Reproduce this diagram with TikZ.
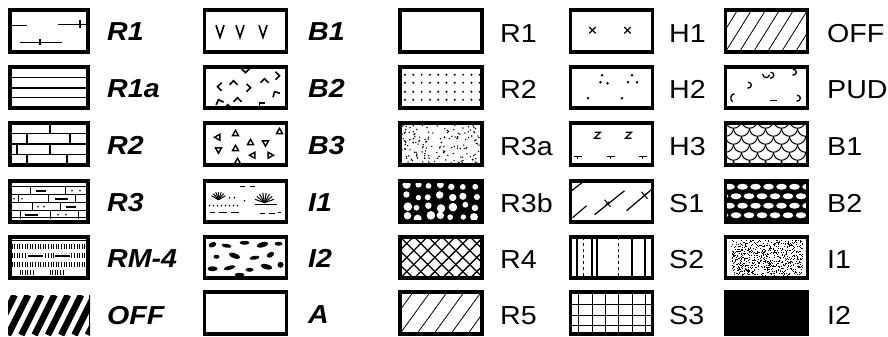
\documentclass[tikz,border=0pt]{standalone}
\usepackage{fontspec}
\newfontfamily\arial[FakeStretch=1.1]{Liberation Sans}
\newcommand\mypat[4]{\begin{scope}[shift={({#1-#3/2},{#2-20.75})}]\clip (0,0) rectangle (#3,41.5);#4\end{scope}}
\begin{document}
\begin{tikzpicture}[x=1pt,y=-1pt,
  box/.style={draw, line width=3.8pt, minimum height=41.5pt, inner sep=0pt, outer sep=0pt},
  pl/.style={line width=1.2pt},
  lab/.style={anchor=base west, inner sep=0pt, font=\arial\fontsize{26}{26}\selectfont},
  ilab/.style={anchor=base west, inner sep=0pt, font=\arial\bfseries\itshape\fontsize{26}{26}\selectfont}]
\useasboundingbox (0,0) rectangle (888,337);
\pgfmathsetseed{4242}

% ================= column 1 =================
\mypat{49}{31}{78}{
  \draw[pl] (0,15) -- (17,15);
  \draw[pl] (48,14) -- (78,14); \draw[pl] (70,10) -- (70,18);
  \draw[pl] (10,32) -- (52,32); \draw[pl] (30,29) -- (30,35);
}
\node[box, minimum width=78pt] (b1a) at (49,31) {};
\node[ilab] (t1a) at (107,41) {R1};

\mypat{49}{87.5}{78}{
  \draw[pl] (0,10.5) -- (78,10.5);
  \draw[line width=2pt] (0,21) -- (78,21);
  \draw[pl] (0,31) -- (78,31);
}
\node[box, minimum width=78pt] (b1b) at (49,87.5) {};
\node[ilab] (t1b) at (107,97.5) {R1a};

\mypat{49}{144}{78}{
  \foreach \y in {10.4,20.8,31.2} \draw[pl] (0,\y) -- (78,\y);
  \foreach \x/\y in {40/0, 17/10.4, 60/10.4, 7/20.8, 40/20.8, 17/31.2, 57/31.2}
    \draw[pl] (\x,\y) -- (\x,{\y+10.4});
}
\node[box, minimum width=78pt] (b1c) at (49,144) {};
\node[ilab] (t1c) at (107,154) {R2};

\mypat{49}{201.5}{78}{
  \foreach \y in {6,14,22,30,37} \draw[line width=1pt] (0,\y) -- (78,\y);
  \foreach \x/\y in {20/6, 55/6, 8/14, 38/14, 65/14, 22/22, 50/22, 10/30, 40/30, 68/30}
    \draw[line width=1pt] (\x,\y) -- (\x,{\y+8});
  \draw[line width=1.6pt] (26,10) -- (36,10) (45,18) -- (58,18) (56,26) -- (66,26) (15,34) -- (28,34);
  \foreach \x/\y in {4/18, 12/18, 28/26, 34/26, 48/34, 56/34, 62/10, 70/10}
    \fill (\x,\y) circle (0.9);
}
\node[box, minimum width=78pt] (b1d) at (49,201.5) {};
\node[ilab] (t1d) at (107,211.5) {R3};

\mypat{49}{257.5}{78}{
  \draw[pl] (0,4) -- (78,4);
  \foreach \y in {7,16,25}
    \foreach \x in {2,4.6,...,77} \draw[line width=0.8pt] (\x,\y) -- (\x,{\y+5.5});
  \fill[white] (17,16.5) rectangle (34,21.5) (44,16.5) rectangle (61,21.5);
  \draw[line width=2.5pt] (18,19) -- (33,19) (45,19) -- (60,19);
  \foreach \x in {10,12.6,...,24} \draw[line width=0.8pt] (\x,33) -- (\x,38);
  \foreach \x in {40,42.6,...,54} \draw[line width=0.8pt] (\x,33) -- (\x,38);
}
\node[box, minimum width=78pt] (b1e) at (49,257.5) {};
\node[ilab] (t1e) at (107,267.5) {RM-4};

\begin{scope}
  \clip (8,295) rectangle (90,335);
  \foreach \k in {-2,...,7} \draw[line width=6.5pt] ({\k*13.3+8},335) -- ({\k*13.3+28},295);
\end{scope}
\coordinate (offa) at (89.5,295);
\coordinate (offb) at (89.5,335);
\draw[line width=0.8pt] (offa) -- (offb);
\node[ilab] (t1f) at (107,324) {OFF};

% ================= column 2 =================
\mypat{245.5}{31}{82}{
  \foreach \x in {15.5,35.5,58.5} \draw[line width=1.6pt] ({\x-4},15) -- (\x,27) -- ({\x+4},15);
}
\node[box, minimum width=82pt] (b2a) at (245.5,31) {};
\node[ilab] (t2a) at (308,41) {B1};

\mypat{245.5}{87.5}{82}{
  \foreach \x/\y/\a in {13/20/90, 29/14/0, 46/21/-90, 60/12/0, 70/25/30, 14/33/20, 33/31/0, 41/6/180, 75/9/-90, 23/38/10, 55/36/45}
    \draw[line width=1.6pt, rotate around={\a:(\x,\y)}] ({\x-4},{\y+4}) -- (\x,\y) -- ({\x+4},{\y+4});
}
\node[box, minimum width=82pt] (b2b) at (245.5,87.5) {};
\node[ilab] (t2b) at (308,97.5) {B2};

\mypat{245.5}{144}{82}{
  \foreach \x/\y/\a in {13/14/90, 31/10/0, 46/19/0, 61/20/180, 14/27/180, 31/25/0, 48/32/90, 66/32/-90, 33/38/0, 75/8/0}
    \draw[line width=1.4pt, rotate around={\a:(\x,\y)}] ({\x-3},{\y+2.4}) -- ({\x+3},{\y+2.4}) -- (\x,{\y-3}) -- cycle;
}
\node[box, minimum width=82pt] (b2c) at (245.5,144) {};
\node[ilab] (t2c) at (308,154) {B3};

\mypat{245.5}{201.5}{82}{
  \foreach \a in {30,50,...,150} \draw[line width=1pt] (14,19) -- ++({8*cos(\a)},{-8*sin(\a)});
  \foreach \a in {20,40,...,160} \draw[line width=1pt] (60,22) -- ++({10*cos(\a)},{-10*sin(\a)});
  \draw[line width=1pt] (50,24) -- (72,24);
  \foreach \x in {5,9,...,33} \fill (\x,25) circle (0.8);
  \draw[line width=1.3pt] (5,32) -- (10,32) (14,32) -- (22,32) (26,32) -- (34,32)
    (55,33) -- (60,33) (64,33) -- (70,33) (73,32) -- (76,32) (35,6) -- (40,6) (45,6) -- (50,6);
  \fill (25,17) circle (0.8) (30,17) circle (0.8) (40,20) circle (0.8);
}
\node[box, minimum width=82pt] (b2d) at (245.5,201.5) {};
\node[ilab] (t2d) at (308,211.5) {I1};

\mypat{245.5}{257.5}{82}{
  \foreach \x/\y/\rx/\ry/\a in {8/8/4/2.5/20, 22/9/5/2/-10, 40/6/5/2/0, 58/8/6/2.5/15, 74/7/4/2/0,
      12/20/3/2/0, 30/19/6/2.5/-20, 50/21/5/2/10, 66/18/4/2.5/30, 8/32/5/2.5/0,
      25/31/6/2/15, 45/33/4/2/0, 62/30/6/2.5/-15, 76/28/3/3/0, 35/38/5/2/0}
    \fill[rotate around={\a:(\x,\y)}] (\x,\y) ellipse [x radius=\rx, y radius=\ry];
}
\node[box, minimum width=82pt] (b2e) at (245.5,257.5) {};
\node[ilab] (t2e) at (308,267.5) {I2};

\node[box, minimum width=82pt] (b2f) at (245.5,313) {};
\node[ilab] (t2f) at (308,323) {A};

% ================= column 3 =================
\node[box, minimum width=82pt] (b3a) at (441,31) {};
\node[lab] (t3a) at (500,42) {R1};

\mypat{441}{87.5}{82}{
  \foreach \y in {8,16,25,33} \foreach \x in {5,13.3,...,80} \fill (\x,\y) circle (1.1);
}
\node[box, minimum width=82pt] (b3b) at (441,87.5) {};
\node[lab] (t3b) at (500,98.5) {R2};

\mypat{441}{144}{82}{
  \foreach \i in {1,...,170} \fill ({rnd*82},{rnd*41.5}) circle (0.8);
}
\node[box, minimum width=82pt] (b3c) at (441,144) {};
\node[lab] (t3c) at (500,155) {R3a};

\mypat{441}{201.5}{82}{
  \fill (0,0) rectangle (82,41.5);
  \foreach \i in {0,...,6} \foreach \j in {0,...,3}
    \fill[white] ({6+\i*11.5+rnd*4-2},{5+\j*10.5+rnd*4-2}) circle ({2.6+rnd*1.8});
}
\node[box, minimum width=82pt] (b3d) at (441,201.5) {};
\node[lab] (t3d) at (500,212.5) {R3b};

\mypat{441}{257.5}{82}{
  \foreach \k in {-4,...,9} {
    \draw[line width=1.4pt] ({\k*14},41.5) -- ({\k*14+41.5},0);
    \draw[line width=1.4pt] ({\k*14},0) -- ({\k*14+41.5},41.5);
  }
}
\node[box, minimum width=82pt] (b3e) at (441,257.5) {};
\node[lab] (t3e) at (500,268.5) {R4};

\mypat{441}{313}{82}{
  \foreach \k in {-3,...,6} \draw[line width=0.8pt] ({\k*17},41.5) -- ({\k*17+30},0);
}
\node[box, minimum width=82pt] (b3f) at (441,313) {};
\node[lab] (t3f) at (500,324) {R5};

% ================= column 4 =================
\mypat{611.5}{31}{82}{
  \foreach \x in {22,57} \draw[line width=1.3pt] ({\x-3.2},16.8) -- ({\x+3.2},23.2) ({\x-3.2},23.2) -- ({\x+3.2},16.8);
}
\node[box, minimum width=82pt] (b4a) at (611.5,31) {};
\node[lab] (t4a) at (669,42) {H1};

\mypat{611.5}{87.5}{82}{
  \foreach \x/\y in {31.5/8.5, 30/15.5, 37/16.5, 61.5/8.5, 57.5/15.5, 66.5/15.5, 17.5/31.5, 51.5/31.5}
    \fill (\x,\y) circle (1.3);
}
\node[box, minimum width=82pt] (b4b) at (611.5,87.5) {};
\node[lab] (t4b) at (669,98.5) {H2};

\mypat{611.5}{144}{82}{
  \foreach \x in {27,58} \draw[line width=1.3pt] ({\x-3},9) -- ({\x+3},9) -- ({\x-3},15) -- ({\x+3},15);
  \foreach \x in {7,40,72} \draw[line width=1.3pt] ({\x-4},33) -- ({\x+4},33) (\x,33) -- (\x,36);
}
\node[box, minimum width=82pt] (b4c) at (611.5,144) {};
\node[lab] (t4c) at (669,155) {H3};

\mypat{611.5}{201.5}{82}{
  \draw[pl] (1,10) -- (14,0);
  \draw[pl] (2,37) -- (16,25);
  \draw[pl] (24,34) -- (54,10);
  \draw[pl] (56,30) -- (82,8);
  \draw[line width=1pt] (34,19) -- (40,26) (35.5,24) -- (38.5,21);
  \draw[line width=1pt] (71,11) -- (77,18) (72.5,16) -- (75.5,13);
}
\node[box, minimum width=82pt] (b4d) at (611.5,201.5) {};
\node[lab] (t4d) at (669,212.5) {S1};

\mypat{611.5}{257.5}{82}{
  \draw[line width=2pt] (6.5,0) -- (6.5,41.5);
  \draw[line width=0.6pt, dashed] (12.5,0) -- (12.5,41.5);
  \draw[line width=1.2pt] (21.5,0) -- (21.5,41.5) (26.5,0) -- (26.5,41.5) (61.5,0) -- (61.5,41.5);
  \draw[line width=0.8pt, dashed] (47.5,0) -- (47.5,41.5);
  \draw[line width=2pt] (74.5,0) -- (74.5,41.5);
}
\node[box, minimum width=82pt] (b4e) at (611.5,257.5) {};
\node[lab] (t4e) at (669,268.5) {S2};

\mypat{611.5}{313}{82}{
  \foreach \x in {8,22,35,48,62,75} \draw[line width=1.1pt] (\x,0) -- (\x,41.5);
  \foreach \y in {12,23,33} \draw[line width=1.1pt] (0,\y) -- (82,\y);
}
\node[box, minimum width=82pt] (b4f) at (611.5,313) {};
\node[lab] (t4f) at (669,324) {S3};

% ================= column 5 =================
\mypat{766.5}{31}{82}{
  \foreach \k in {-3,...,7} \draw[line width=0.8pt] ({\k*14},41.5) -- ({\k*14+26},0);
}
\node[box, minimum width=82pt] (b5a) at (766.5,31) {};
\node[lab] (t5a) at (827,42) {OFF};

\mypat{766.5}{87.5}{82}{
  \foreach \x/\y in {23.5/18.5, 46/8.5, 68.5/5.5, 72.5/31.5}
    \draw[line width=1.3pt] ({\x-1},{\y-3}) .. controls ({\x+3.5},{\y-3}) and ({\x+3.5},{\y+3}) .. ({\x-1.5},{\y+3});
  \draw[line width=1.3pt] (37,7) .. controls (38,12) and (43,12) .. (44,8);
  \draw[line width=1.3pt] (9,27) .. controls (5,27) and (4,33) .. (7,35);
  \draw[line width=1.3pt] (44,34) -- (51,34);
}
\node[box, minimum width=82pt] (b5b) at (766.5,87.5) {};
\node[lab] (t5b) at (827,98.5) {PUD};

\mypat{766.5}{144}{82}{
  \foreach \j in {0,...,5} \foreach \i in {-1,...,6}
    \draw[line width=1pt] ({\i*16+mod(\j,2)*8},{-3+\j*8}) arc (180:0:8);
}
\node[box, minimum width=82pt] (b5c) at (766.5,144) {};
\node[lab] (t5c) at (827,155) {B1};

\mypat{766.5}{201.5}{82}{
  \fill (0,0) rectangle (82,41.5);
  \foreach \j in {0,...,3} \foreach \i in {-1,...,6}
    \fill[white] ({\i*13+mod(\j,2)*6.5+4},{6+\j*9.5}) ellipse [x radius=5.3, y radius=3];
}
\node[box, minimum width=82pt] (b5d) at (766.5,201.5) {};
\node[lab] (t5d) at (827,212.5) {B2};

\mypat{766.5}{257.5}{82}{
  \foreach \i in {1,...,700} \fill ({5+rnd*72},{3+rnd*35}) rectangle ++(1,1);
}
\node[box, minimum width=82pt] (b5e) at (766.5,257.5) {};
\node[lab] (t5e) at (827,268.5) {I1};

\node[box, minimum width=82pt, fill=black] (b5f) at (766.5,313) {};
\node[lab] (t5f) at (827,324) {I2};
\end{tikzpicture}
\end{document}
